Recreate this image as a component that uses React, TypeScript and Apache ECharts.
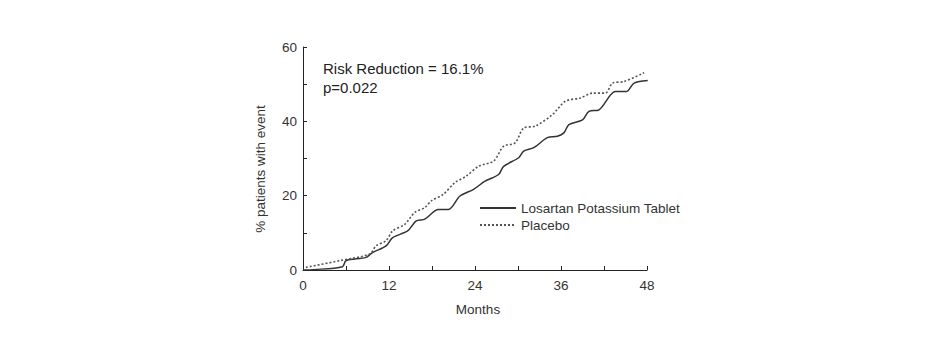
import React, { useEffect, useRef } from "react";
import * as echarts from "echarts";

const losartanMonths = [0, 1.5, 5.5, 6, 8.8, 9.7, 11.6, 12.5, 14.6, 15.8, 17, 18.9, 20.3, 21.9, 23.8, 25.4, 27.3, 28, 30.1, 30.8, 32.2, 34.1, 35.5, 36.4, 37.1, 39, 39.9, 41.3, 43.6, 45.1, 46.2, 48.1];
const losartanValues = [0, 0.1, 0.9, 2.5, 3.4, 4.7, 6.5, 8.7, 10.5, 13.2, 13.7, 16.3, 16.3, 19.9, 21.7, 23.9, 25.7, 27.9, 30.2, 32.0, 32.9, 35.6, 36.0, 36.9, 39.1, 40.4, 42.7, 43.1, 48.0, 48.0, 50.3, 51.0];

const placeboMonths = [0.4, 5.1, 9.3, 10.2, 11.6, 12.5, 14.2, 15.6, 17, 17.9, 19.6, 21.2, 22.8, 24.5, 26.6, 28, 29.6, 30.8, 32.4, 34.8, 36.6, 38.7, 40.4, 42.2, 43.2, 44.8, 47.6];
const placeboValues = [0.7, 2.5, 4.3, 6.5, 7.9, 10.5, 12.3, 15.5, 16.8, 18.6, 20.4, 23.5, 25.3, 27.9, 29.3, 33.3, 34.2, 38.2, 38.7, 41.8, 45.4, 46.3, 47.6, 47.6, 50.3, 50.7, 53.1];

const seriesNames = ["Losartan Potassium Tablet", "Placebo"];
const xAxisTitle = "Months";
const yAxisTitle = "% patients with event";
const annotationLines = ["Risk Reduction = 16.1%", "p=0.022"];

const FONT = "'Liberation Sans', Arial, sans-serif";
const TEXT = "#333";
const FS = 13.5;

export default function App() {
  const ref = useRef<HTMLDivElement>(null);
  useEffect(() => {
    if (!ref.current) return;
    const chart = echarts.init(ref.current, undefined, { renderer: "svg" });
    const toPairs = (xs: number[], ys: number[]) => xs.map((x, i) => [x, ys[i]]);
    chart.setOption({
      animation: false,
      backgroundColor: "#fff",
      textStyle: { fontFamily: FONT },
      grid: { left: 303, right: 284, top: 47, bottom: 80, containLabel: false },
      xAxis: {
        type: "value",
        min: 0,
        max: 48,
        interval: 6,
        axisLine: { lineStyle: { color: "#222", width: 1 } },
        axisTick: { inside: true, length: 4, lineStyle: { color: "#222" } },
        splitLine: { show: false },
        axisLabel: {
          color: TEXT,
          fontSize: FS,
          fontFamily: FONT,
          margin: 8,
          formatter: (v: number) => (v % 12 === 0 ? String(v) : ""),
        },
      },
      yAxis: {
        type: "value",
        min: 0,
        max: 60,
        interval: 10,
        axisLine: { show: true, lineStyle: { color: "#222", width: 1 } },
        axisTick: { show: true, inside: true, length: 4, lineStyle: { color: "#222" } },
        splitLine: { show: false },
        axisLabel: {
          color: TEXT,
          fontSize: FS,
          fontFamily: FONT,
          margin: 6,
          formatter: (v: number) => (v % 20 === 0 ? String(v) : ""),
        },
      },
      legend: {
        orient: "vertical",
        left: 479,
        top: 201,
        itemWidth: 36,
        itemHeight: 14,
        itemGap: 3,
        padding: 0,
        itemStyle: { opacity: 0 },
        textStyle: { color: TEXT, fontSize: FS, fontFamily: FONT },
        data: seriesNames,
      },
      series: [
        {
          name: seriesNames[0],
          type: "line",
          data: toPairs(losartanMonths, losartanValues),
          smooth: 0.3,
          symbol: "none",
          lineStyle: { color: "#333", width: 1.5 },
          itemStyle: { color: "#333" },
        },
        {
          name: seriesNames[1],
          type: "line",
          data: toPairs(placeboMonths, placeboValues),
          smooth: 0.3,
          symbol: "none",
          lineStyle: { color: "#555", width: 1.6, type: [2, 2] },
          itemStyle: { color: "#555" },
        },
      ],
      graphic: [
        {
          type: "text",
          left: 323,
          top: 59,
          style: {
            text: annotationLines.join("\n"),
            fontSize: 15,
            lineHeight: 19,
            fill: "#222",
            fontFamily: FONT,
          },
        },
        {
          type: "text",
          x: 478,
          y: 309,
          style: {
            text: xAxisTitle,
            fontSize: FS,
            fill: TEXT,
            fontFamily: FONT,
            align: "center",
            verticalAlign: "middle",
          },
        },
        {
          type: "text",
          x: 260,
          y: 169,
          rotation: Math.PI / 2,
          style: {
            text: yAxisTitle,
            fontSize: FS,
            fill: TEXT,
            fontFamily: FONT,
            align: "center",
            verticalAlign: "middle",
          },
        },
      ],
    });
    return () => chart.dispose();
  }, []);
  return (
    <div
      ref={ref}
      style={{ position: "fixed", left: 0, top: 0, width: 931, height: 350, background: "#fff" }}
    />
  );
}
